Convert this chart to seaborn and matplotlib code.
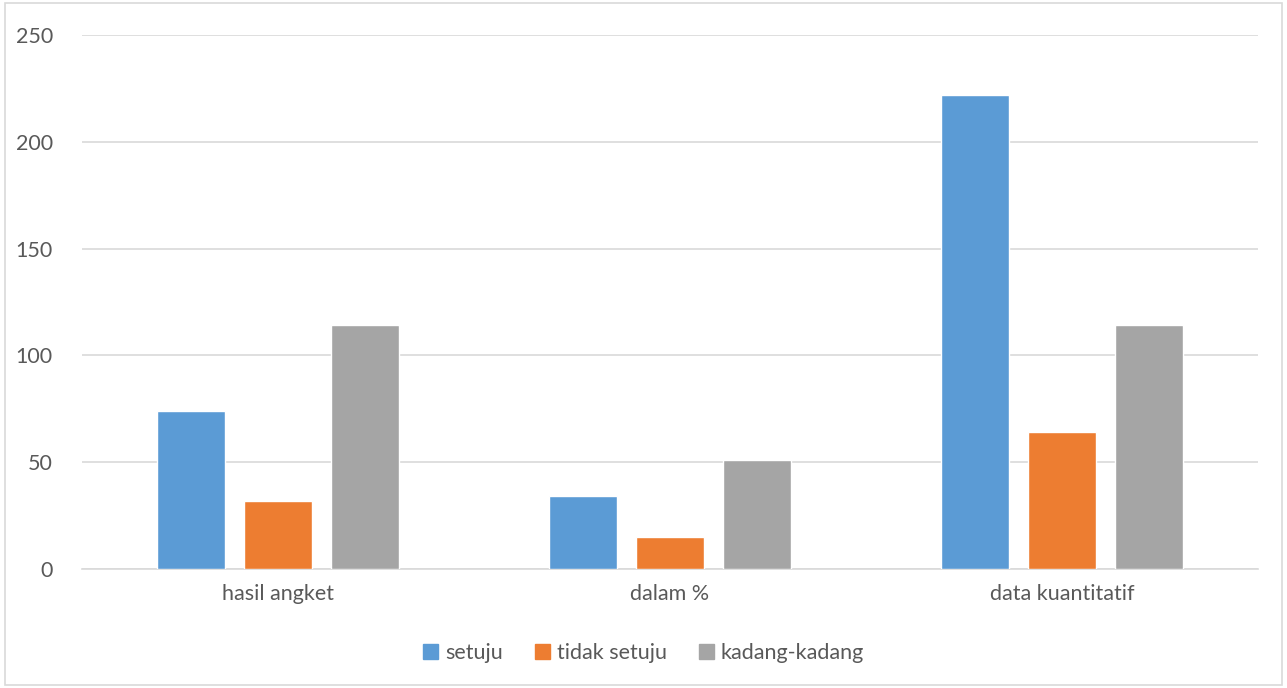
import pandas as pd
import seaborn as sns
import matplotlib.pyplot as plt
from matplotlib.patches import Rectangle

# data
categories = ['hasil angket', 'dalam %', 'data kuantitatif']
series = ['setuju', 'tidak setuju', 'kadang-kadang']
setuju = [74, 34, 222]
tidak_setuju = [32, 15, 64]
kadang = [114, 51, 114]
colors = ['#5B9BD5', '#ED7D31', '#A5A5A5']

df = pd.DataFrame({
    'kategori': categories * 3,
    'seri': [s for s in series for _ in categories],
    'nilai': setuju + tidak_setuju + kadang,
})

sns.set_style('white')
plt.rcParams['font.family'] = ['Lato', 'DejaVu Sans']
text_col = '#595959'

fig = plt.figure(figsize=(12.87, 6.88), dpi=100)
ax = fig.add_axes([0.0637, 0.173, 0.9138, 0.7761])

sns.barplot(data=df, x='kategori', y='nilai', hue='seri', palette=colors,
            saturation=1, width=0.666, gap=0.22, ax=ax, legend=False, zorder=3)

ax.set_ylim(0, 250)
ax.set_xlim(-0.5, 2.5)
ax.set_yticks(range(0, 251, 50))
ax.yaxis.grid(True, color='#D9D9D9', linewidth=1.2, zorder=0)
ax.set_axisbelow(True)
for side in ['top', 'right', 'left']:
    ax.spines[side].set_visible(False)
ax.spines['bottom'].set_color('#D9D9D9')
ax.spines['bottom'].set_linewidth(1.2)
ax.tick_params(axis='both', length=0, labelsize=15.5, colors=text_col)
ax.tick_params(axis='y', pad=21)
ax.tick_params(axis='x', pad=11)
ax.set_xlabel('')
ax.set_ylabel('')

# legend
handles = [Rectangle((0, 0), 1, 1, color=c) for c in colors]
fig.legend(handles, series, loc='center', bbox_to_anchor=(0.5, 0.051), ncol=3,
           frameon=False, fontsize=15.5, labelcolor=text_col,
           handlelength=0.7, handleheight=0.7, handletextpad=0.3, columnspacing=1.5)

# outer chart frame
fig.patches.append(Rectangle((0.004, 0.004), 0.992, 0.992, transform=fig.transFigure,
                             fill=False, edgecolor='#D9D9D9', linewidth=1.2))

fig.savefig('out.png', dpi=100)
